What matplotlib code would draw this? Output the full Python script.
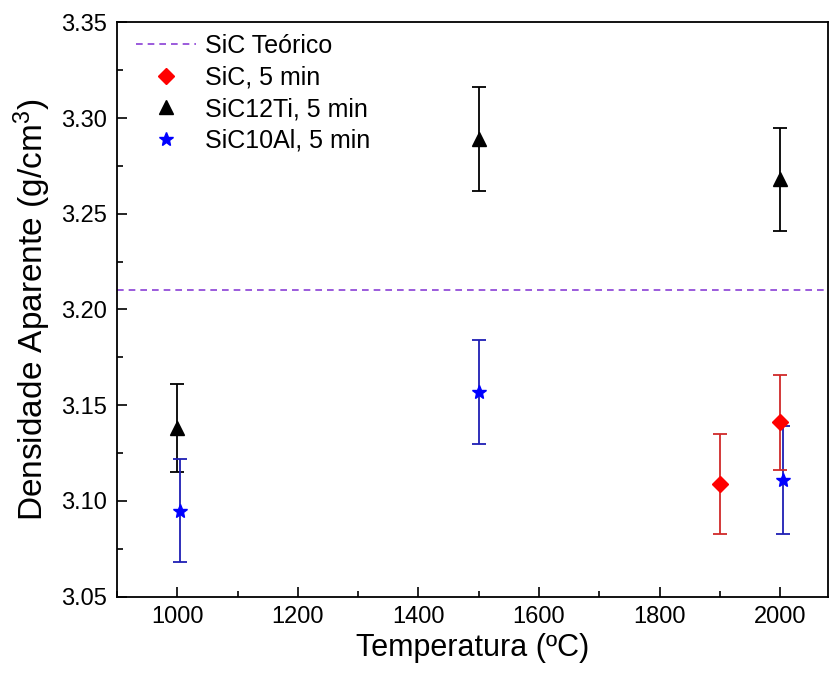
import matplotlib
matplotlib.use("Agg")
import matplotlib.pyplot as plt
from matplotlib.ticker import MultipleLocator

plt.rcParams['font.family'] = ['Liberation Sans', 'DejaVu Sans']
plt.rcParams['mathtext.default'] = 'regular'

# dados
temp_sic = [1900, 2000]
dens_sic = [3.109, 3.141]
err_sic = [0.026, 0.025]

temp_ti = [1000, 1500, 2000]
dens_ti = [3.138, 3.289, 3.268]
err_ti = [0.023, 0.027, 0.027]

temp_al = [1005, 1500, 2005]
dens_al = [3.095, 3.157, 3.111]
err_al = [0.027, 0.027, 0.028]

sic_teorico = 3.21

fig = plt.figure(figsize=(8.3, 6.75), dpi=100)
ax = fig.add_axes([0.141, 0.116, 0.857, 0.851])

ax.axhline(sic_teorico, color='#8a3fd6', ls=(0, (4, 3)), lw=1.2, label='SiC Teórico')

# barras de erro
ax.errorbar(temp_ti, dens_ti, yerr=err_ti, fmt='none', ecolor='black',
            elinewidth=1.3, capsize=5, capthick=1.3)
ax.errorbar(temp_al, dens_al, yerr=err_al, fmt='none', ecolor='#1f1fb4',
            elinewidth=1.3, capsize=5, capthick=1.3)
ax.errorbar(temp_sic, dens_sic, yerr=err_sic, fmt='none', ecolor='#d02a2a',
            elinewidth=1.3, capsize=5, capthick=1.3)

# marcadores
ax.plot(temp_sic, dens_sic, 'D', color='red', ms=8, ls='none', label='SiC, 5 min', zorder=5)
ax.plot(temp_ti, dens_ti, '^', color='black', ms=10, ls='none', label='SiC12Ti, 5 min', zorder=5)
ax.plot(temp_al, dens_al, '*', color='blue', ms=10, ls='none', label='SiC10Al, 5 min', zorder=5)

ax.set_xlim(900, 2080)
ax.set_ylim(3.05, 3.35)
ax.xaxis.set_major_locator(MultipleLocator(200))
ax.xaxis.set_minor_locator(MultipleLocator(100))
ax.yaxis.set_major_locator(MultipleLocator(0.05))
ax.yaxis.set_minor_locator(MultipleLocator(0.025))
ax.yaxis.set_major_formatter(matplotlib.ticker.FormatStrFormatter('%.2f'))

ax.tick_params(which='both', direction='in', top=False, right=False, labelsize=17, width=1.2)
ax.tick_params(which='major', length=7, pad=7)
ax.tick_params(which='minor', length=4)
for s in ax.spines.values():
    s.set_linewidth(1.3)

ax.set_xlabel('Temperatura (ºC)', fontsize=22, labelpad=3)
ax.set_ylabel('Densidade Aparente (g/cm$^3$)', fontsize=24, labelpad=6)

ax.legend(loc='upper left', bbox_to_anchor=(0, 1.013), frameon=False, fontsize=18,
          handlelength=2.4, handletextpad=0.35, labelspacing=0.31,
          borderaxespad=0.5, borderpad=0.25)

fig.savefig('out.png', dpi=100)
